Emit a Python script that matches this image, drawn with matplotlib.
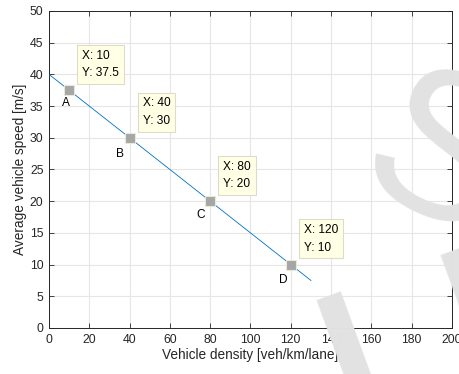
import numpy as np
import matplotlib
matplotlib.use("Agg")
from matplotlib import pyplot as plt

plt.rcParams['font.family'] = ['Liberation Sans', 'DejaVu Sans']

# fundamental diagram: speed falls linearly with density
# (visible part of the line ends near density 130)
density_line = [0, 130]
speed_line = [40, 7.5]

# marked points
names = ['A', 'B', 'C', 'D']
density_pts = [10, 40, 80, 120]
speed_pts = [37.5, 30, 20, 10]

xticks = np.arange(0, 201, 20)
yticks = np.arange(0, 51, 5)

fig = plt.figure(figsize=(4.59, 3.74), dpi=100)
ax = fig.add_axes([0.1068, 0.123, 0.8779, 0.8476])

ax.plot(density_line, speed_line, color='#0072BD', lw=0.6, zorder=3)
ax.plot(density_pts, speed_pts, 's', ms=6.5, color='#A6A6A6',
        mec='#E8E8D8', mew=0.8, zorder=4)

# label offsets (pixels) for the letter under each point
lab_off = [(-3, -13), (-10, -16), (-10, -14), (-7, -15)]
for n, x, y, off in zip(names, density_pts, speed_pts, lab_off):
    ax.annotate(n, (x, y), xytext=off, textcoords='offset pixels',
                ha='center', va='center', fontsize=8.6, zorder=5)
    ax.annotate('X: %g\nY: %g' % (x, y), (x, y), xytext=(13, 11),
                textcoords='offset pixels', ha='left', va='bottom',
                fontsize=8.6, linespacing=1.6, zorder=6,
                bbox=dict(boxstyle='square,pad=0.4', fc='#FFFFE6',
                          ec='#DCDCC8', lw=0.8))

ax.set_xlim(0, 200)
ax.set_ylim(0, 50)
ax.set_xticks(xticks)
ax.set_yticks(yticks)
ax.grid(True, color='#E6E6E6', lw=0.8)
ax.set_axisbelow(True)
ax.tick_params(direction='in', length=3.5, width=0.6, top=True, right=True,
               labelsize=8.8, colors='#262626', pad=4)
for s in ax.spines.values():
    s.set_color('#262626')
    s.set_linewidth(0.7)

ax.set_xlabel('Vehicle density [veh/km/lane]', fontsize=9.8, color='#262626',
              labelpad=2)
ax.set_ylabel('Average vehicle speed [m/s]', fontsize=9.8, color='#262626',
              labelpad=2)

# light watermark letters over the plot
fig.text(0.937, -0.011, 'U', fontsize=200, color='#E2E2E2', rotation=20,
         ha='center', va='center', zorder=10)
fig.text(0.952, 0.56, 'S', fontsize=150, color='#E2E2E2', rotation=-25,
         ha='center', va='center', zorder=10)

fig.savefig('out.png', dpi=100)
